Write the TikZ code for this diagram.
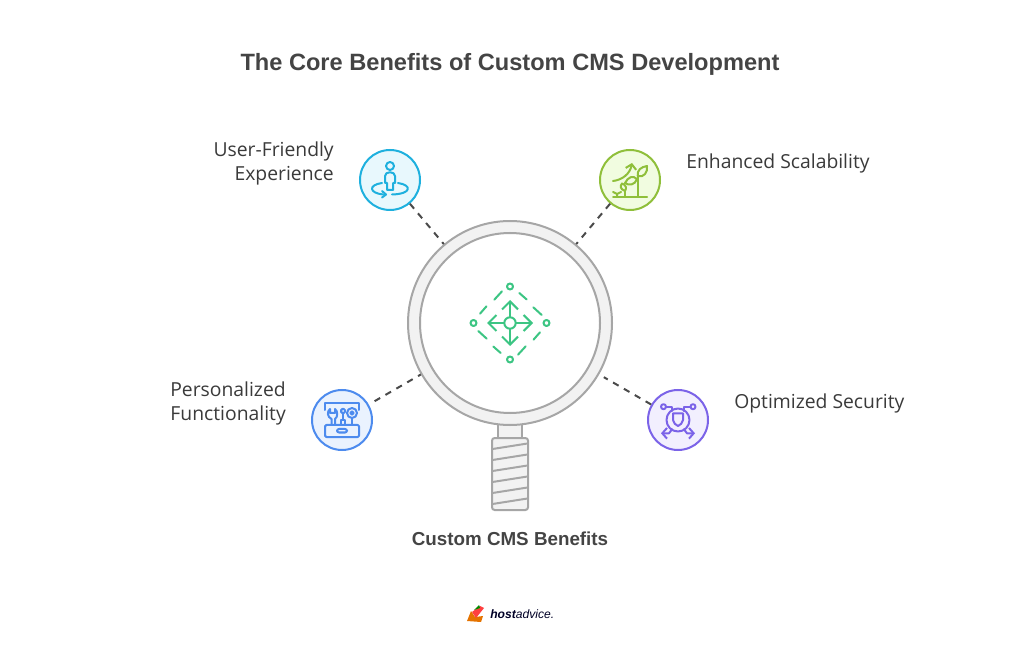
\documentclass[tikz,border=0pt]{standalone}
\usepackage{fontspec}
\setmainfont{Open Sans}
\newfontfamily\headfont{Liberation Sans}
\usetikzlibrary{arrows.meta}
\definecolor{ringgray}{HTML}{A6A6A6}
\definecolor{ringfill}{HTML}{F2F2F2}
\definecolor{textgray}{HTML}{3A3A3A}
\definecolor{titlegray}{HTML}{444444}
\definecolor{dashgray}{HTML}{4A4A4A}
\definecolor{centergreen}{HTML}{3CC583}
\definecolor{userblue}{HTML}{1EB0DE}
\definecolor{userfill}{HTML}{E8F8FD}
\definecolor{leafgreen}{HTML}{8FBF3A}
\definecolor{leaffill}{HTML}{F1FCE0}
\definecolor{toolblue}{HTML}{4D8BEE}
\definecolor{toolfill}{HTML}{EAF2FE}
\definecolor{shieldviolet}{HTML}{7B63E8}
\definecolor{shieldfill}{HTML}{F2EFFE}
\tikzset{
    badge/.style={circle, draw=#1, line width=1.5pt, minimum size=45pt, inner sep=0pt},
    label/.style={text=textgray, font=\fontsize{14.5}{18}\selectfont, inner sep=0pt},
    connector/.style={dashgray, line width=1.5pt, dash pattern=on 4.8pt off 4.6pt},
    icon/.style={line width=1.5pt, line cap=round, line join=round},
    barb/.style={-{Straight Barb[length=3.5pt,width=8pt]}},
    bigbarb/.style={-{Straight Barb[length=6pt,width=12pt]}},
}
\begin{document}
\begin{tikzpicture}[x=0.75pt, y=-0.75pt]
    \useasboundingbox (0,0) rectangle (1020,655);

    % Title and caption
    \node[text=titlegray, font=\headfont\fontsize{17.7}{22}\selectfont\bfseries, inner sep=0pt] (title) at (510,64) {The Core Benefits of Custom CMS Development};
    \node[text=titlegray, font=\headfont\fontsize{14.1}{18}\selectfont\bfseries, inner sep=0pt] (caption) at (510,539) {Custom CMS Benefits};

    % Draw the magnifying glass
    \node[rectangle, draw=ringgray, fill=ringfill, line width=1.5pt, minimum width=18pt, minimum height=13pt, inner sep=0pt] (neck) at (510,431) {};
    \node[rectangle, rounded corners=2pt, draw=ringgray, fill=ringfill, line width=1.5pt, minimum width=27pt, minimum height=54pt, inner sep=0pt] (handle) at (510,474) {};
    \foreach \y in {449,460,471,482,493,504}
        \draw[ringgray, line width=1.5pt] (492.5,\y) -- (527.5,\y-5.5);
    \node[circle, draw=ringgray, fill=ringfill, line width=1.5pt, minimum size=153pt, inner sep=0pt] (lens) at (510,323) {};
    \node[circle, draw=ringgray, fill=white, line width=1.5pt, minimum size=135pt, inner sep=0pt] (lensin) at (510,323) {};

    % Draw the four badges
    \node[badge=userblue, fill=userfill] (user) at (390,180) {};
    \node[badge=leafgreen, fill=leaffill] (scale) at (630,180) {};
    \node[badge=toolblue, fill=toolfill] (tool) at (342,420) {};
    \node[badge=shieldviolet, fill=shieldfill] (shield) at (678,420) {};

    % Dashed connectors
    \draw[connector] (user) -- (lens);
    \draw[connector] (scale) -- (lens);
    \draw[connector, shorten <=5pt] (tool) -- (lens);
    \draw[connector, shorten >=4pt] (shield) -- (lens);

    % Labels
    \node[label, align=right, anchor=east] (userlabel) at (334,163.5) {User-Friendly\\Experience};
    \node[label, anchor=west] (scalelabel) at (686,163.5) {Enhanced Scalability};
    \node[label, align=right, anchor=east] (toollabel) at (286,403.5) {Personalized\\Functionality};
    \node[label, anchor=west] (shieldlabel) at (734,403.5) {Optimized Security};

    % Centre icon
    \begin{scope}[shift={(510,323)}, centergreen, icon]
        \foreach \a in {0,90,180,270}{
            \begin{scope}[rotate=\a]
                \draw (0,-36.5) circle (3);
                \draw[bigbarb] (0,-6) -- (0,-23);
                \draw (9.3,-30) -- (16.7,-23.5);
                \draw (23.3,-15.7) -- (31.7,-8);
            \end{scope}
        }
        \draw (0,0) circle (5.7);
    \end{scope}

    % User icon
    \begin{scope}[shift={(390,180)}, userblue, icon]
        \draw (0,-14) circle (4);
        \draw (-5,3) -- (-5,-4) .. controls (-5,-9) and (5,-9) .. (5,-4) -- (5,3) -- (3,3) -- (3,10) -- (-3,10) -- (-3,3) -- cycle;
        \draw (-8,3) .. controls (-22,5) and (-21,13) .. (-7,14.5);
        \draw (8,3) .. controls (22,5) and (22,14) .. (2,14.5);
        \draw (-8,11) -- (-4,14.5) -- (-8,17.5);
    \end{scope}

    % Scalability icon
    \begin{scope}[shift={(630,180)}, leafgreen, icon]
        \draw (-17,17) -- (17,17);
        \draw (7.7,17) -- (7.7,-5);
        \draw (7.7,-4) .. controls (7,-10) and (11,-13) .. (17,-14) .. controls (18,-8) and (14,-2) .. (7.7,-4);
        \draw (7,-1) .. controls (3,-5) and (-2,-3) .. (-5,3) .. controls (-1,6) and (5,5) .. (7,-1);
        \draw (-5,17) -- (-5,11);
        \draw (-5,11) .. controls (-10,9) and (-10,6) .. (-8,3.5) .. controls (-4,5) and (-3,8) .. (-5,11);
        \draw (-13,17) -- (-13,14) (-17,12) -- (-13,14) -- (-9,12);
        \draw[barb] (-17,1) .. controls (-8,0) and (0,-6) .. (2,-17);
    \end{scope}

    % Tool box icon
    \begin{scope}[shift={(342,420)}, toolblue, icon]
        \draw (-17,-10) -- (-17,-17) -- (17,-17) -- (17,-10);
        \draw[rounded corners=1pt] (-17,5) rectangle (17,17);
        \draw[rounded corners=1.5pt] (-5,9) rectangle (5,12.5);
        \draw (-10.5,5) -- (-10.5,-1) .. controls (-15,-3) and (-15,-9) .. (-12,-11) -- (-12,-7) -- (-7,-7) -- (-7,-11) .. controls (-4,-9) and (-4,-3) .. (-7,-1) -- (-7,5);
        \draw (-1,5) -- (-1,0) -- (3,0) -- (3,5);
        \draw (1,0) -- (1,-7);
        \draw[rounded corners=1pt] (-1,-11) rectangle (3,-7);
        \draw (10,-7) circle (5);
        \draw (10,-7) circle (1.7);
        \draw (10,-2) -- (10,5);
    \end{scope}

    % Security icon
    \begin{scope}[shift={(678,420)}, shieldviolet, icon]
        \draw (0,0) circle (11.5);
        \draw (-5,-6.7) -- (5,-6.7) -- (5,0) .. controls (5,3) and (2,5) .. (0,6) .. controls (-2,5) and (-5,3) .. (-5,0) -- cycle;
        \draw (-14.5,-13.3) circle (2.5);
        \draw (15,-13.3) circle (2.5);
        \draw (-12,-13) -- (-6,-13) -- (-6,-9);
        \draw (12.5,-13) -- (6,-13) -- (6,-9);
        \draw[barb] (-6,9.3) -- (-9,13.3) -- (-17,13.3);
        \draw[barb] (6,9.3) -- (9,13.3) -- (17,13.3);
    \end{scope}

    % Logo
    \fill[orange!90!black] (467,621) -- (471,611) -- (475,617) -- (483,616) -- (481,622) -- cycle;
    \fill[red!75!white] (472,612) -- (480,606) -- (484,608) -- (476,618) -- cycle;
    \fill[green!55!black] (474,610) -- (479,605) -- (480,608) -- cycle;
    \node[text=black!85!blue, font=\headfont\fontsize{9.1}{11}\selectfont\itshape, inner sep=0pt, anchor=west] (logo) at (490,614) {\textbf{host}advice.};
\end{tikzpicture}
\end{document}
